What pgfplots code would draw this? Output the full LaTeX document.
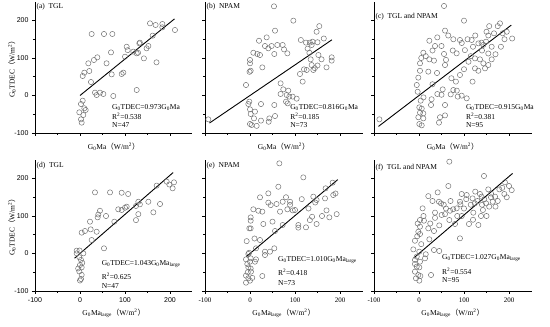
\documentclass[border=0pt]{standalone}
\usepackage{pgfplots}
\pgfplotsset{compat=1.18}
\usepackage{fontspec}
\setmainfont{Liberation Serif}
\setsansfont{Liberation Sans}
\newfontfamily\cjk{Noto Sans CJK SC}
\newcommand{\wunit}{{\cjk （}W/m\textsuperscript{2}{\cjk ）}}
\newcommand{\Gz}{G\textsubscript{0}}
\tikzset{ann/.style={anchor=west, font=\fontsize{7.5}{9}\selectfont, inner sep=0pt}}
\pgfplotsset{
 panel/.style={
  scale only axis, width=157.5pt, height=131.25pt,
  xmin=-100, xmax=250, ymin=-100, ymax=250,
  axis x line*=bottom, axis y line*=left,
  axis line style={black, line width=0.6pt},
  xtick={-100,0,100,200}, ytick={-100,0,100,200},
  minor x tick num=1, minor y tick num=1,
  tick align=outside, major tick length=3pt, minor tick length=2pt,
  tick style={black, line width=0.5pt},
  /pgf/number format/assume math mode=true,
  tick label style={font=\fontsize{7}{8}\selectfont},
  label style={font=\fontsize{7.5}{9}\selectfont},
  clip=false,
 },
 toprow/.style={xticklabels={}, xlabel={\Gz Ma\wunit},
  xlabel style={at={(axis description cs:0.5,-0.107)}, anchor=center}},
 botrow/.style={xlabel={\Gz Ma\textsubscript{large}\wunit},
  xlabel style={at={(axis description cs:0.5,-0.168)}, anchor=center}},
 leftcol/.style={ylabel={\Gz TDEC\wunit},
  ylabel style={at={(axis description cs:-0.146,0.5)}, anchor=center},
  yticklabel style={font=\sffamily\fontsize{7}{8}\selectfont}},
 othercol/.style={yticklabels={}},
 pts/.style={only marks, mark=o, mark size=2.6pt, mark options={draw=black!55, line width=0.5pt}},
 fit/.style={black, line width=0.9pt, no marks},
}
\begin{document}
\begin{tikzpicture}
\path[use as bounding box] (0,0) rectangle (550pt,327pt);
% (a)
\begin{axis}[panel, toprow, leftcol, at={(35pt,194pt)}, anchor=south west]
\addplot[pts] coordinates {(25.9,164) (53.3,164) (71.9,164) (155.6,192.4) (168,188) (183,190.7) (183,181.8) (211,174.7) (161.5,159.6) (170,88.4) (131.9,139) (133,141) (151.9,132) (148,125.8) (103.7,130) (106,121) (118.5,117) (126,112.4) (129,114) (142,99) (100,103.5) (68.9,115) (59,85.8) (38.5,101.8) (31,94.7) (18.5,85.8) (20.7,65.3) (9.6,60.9) (6,52) (24.4,36) (70.4,56.4) (92.6,57.3) (96.3,61) (33.3,7.6) (37,1.3) (44.4,7.6) (51.9,4) (74,-1.3) (126,14.7) (6,-13.8) (2.2,-22.7) (9.6,-34) (12.6,-38.7) (-1.5,-44.9) (7.4,-52) (2.2,-63.6) (3.7,-72.4)};
\addplot[fit] coordinates {(0,0) (210,204.3)};
\node[ann] at (axis cs:-97,238) {(a)\ \ TGL};
\node[ann] at (axis cs:71,-33) {\Gz TDEC=0.973\Gz Ma};
\node[ann] at (axis cs:71,-56) {R\textsuperscript{2}=0.538};
\node[ann] at (axis cs:71,-78) {N=47};
\end{axis}
% (b)
\begin{axis}[panel, toprow, othercol, at={(205pt,194pt)}, anchor=south west]
\addplot[pts] coordinates {(53.3,237.8) (96.3,199.6) (154,185) (148,170) (164,152) (55.6,172.9) (37,155) (20,146) (33.3,132) (48,132) (60.7,134.7) (72.6,134.7) (75.6,123) (54,110.7) (40.7,125.8) (83,112.4) (7.4,114) (16.3,110.7) (22.2,108) (113,148) (124.4,141) (133,141) (139,143.6) (137,134.7) (132,114) (152,108) (159,96.4) (181.5,101.8) (181.5,93) (170,75) (134.8,96.4) (137,81.3) (126,68) (140.7,68) (144,73) (120,69.8) (111,57.3) (117,37) (0,94.7) (0,85.8) (1.5,66) (-1,63) (27.4,75) (-8.9,28) (68,32.4) (74,16.4) (85,12.9) (68,4) (81.5,1.3) (87.4,-3) (94.8,-3) (103.7,-8.4) (80,-16.4) (83.7,-21) (54,-25.3) (-1.5,-16.4) (-3.7,-22.7) (24.4,-22.7) (0,-36.9) (11,-43) (1.5,-49.3) (8.9,-61) (24.4,-67) (43,-61) (41.5,-70) (55.6,-54.7) (0,-76) (3.7,-78.7) (14.8,-81) (-92.6,-63.6) (128,125) (150,142) (150,80)};
\addplot[fit] coordinates {(-90,-73.4) (182,148.5)};
\node[ann] at (axis cs:-97,238) {(b)\ \ NPAM};
\node[ann] at (axis cs:89,-33) {\Gz TDEC=0.816\Gz Ma};
\node[ann] at (axis cs:89,-56) {R\textsuperscript{2}=0.185};
\node[ann] at (axis cs:89,-78) {N=73};
\end{axis}
% (c)
\begin{axis}[panel, toprow, othercol, at={(374pt,194pt)}, anchor=south west]
\addplot[pts] coordinates {(55.6,238.7) (100,199.6) (156,185) (150,170) (166.7,165.8) (186,165.8) (207,152) (57.8,173) (40.7,155) (23,146) (35.6,132) (50,132) (76.3,150) (91,148) (108,150) (117,148) (132,139) (139,141) (149,143.6) (143,135) (182,130) (161.5,130) (154,112) (83.7,112.4) (102,121) (55.6,110.7) (33.3,93) (9.6,114) (23,96.4) (124.4,99) (135.5,96.4) (143,85.8) (161.5,96.4) (154,81.3) (124.4,72.4) (131.9,66) (146.7,72.4) (91,54.7) (72,46) (119,37) (82,37) (57.8,81.3) (2.2,85.8) (2.2,66) (-1.5,47.6) (-5,28) (20.7,63.6) (76.3,14.7) (84,13) (94.8,-0.4) (106,-7.6) (52.6,16.4) (40.7,4) (50,2) (70.4,3) (86,-3) (3.7,-13.8) (0.7,-31.6) (6,-35) (28,-10) (26.7,-25.3) (57.8,-25.3) (2.2,-45.8) (9.6,-47.6) (-1.5,-58) (9.6,-61) (0.7,-76) (6,-79.6) (46.7,-58) (44.4,-72.4) (57.8,-53) (-88,-63.6) (180,192.4) (154,160) (120,130) (95,140) (65,160) (30,120) (15,105) (110,90) (170,110) (190,150) (125,160) (60,95) (40,60) (100,70) (-3,10) (10,-5) (30,30) (75,120) (140,120) (175,185) (195,170) (5,100) (115,105)};
\addplot[fit] coordinates {(-90,-82.4) (205,187.6)};
\node[ann] at (axis cs:-97,209) {(c)\ \ TGL and NPAM};
\node[ann] at (axis cs:104,-33) {\Gz TDEC=0.915\Gz Ma};
\node[ann] at (axis cs:104,-56) {R\textsuperscript{2}=0.381};
\node[ann] at (axis cs:104,-78) {N=95};
\end{axis}
% (d)
\begin{axis}[panel, botrow, leftcol, at={(35pt,36pt)}, anchor=south west, xticklabel style={font=\sffamily\fontsize{7}{8}\selectfont}]
\addplot[pts] coordinates {(33.3,163) (66.7,163) (92.6,162) (107,158.7) (192.6,191.6) (208.9,189.8) (198.5,184) (205.9,173.8) (170.4,181) (129.6,138) (151.9,138) (133,131) (177.8,132) (124.4,126.7) (103.7,124.9) (100,122) (85,117.8) (92.6,116) (163,109.8) (129.6,105) (124.4,89) (76.3,84.9) (44.4,114) (40.7,104) (39.3,96.4) (57.8,100) (22.2,84.9) (3.7,55.6) (11,60) (23.7,64.4) (25.9,36) (37,58) (53.3,13.8) (-7.4,7.6) (-1,8) (7.4,0.4) (-7.4,0.4) (-1.5,-10) (2.2,-17) (0,-30.7) (3.7,-37) (-1.5,-48) (3.7,-57) (2.2,-68) (0,-72) (-4,-40) (5,-25)};
\addplot[fit] coordinates {(-12,-12.5) (207,215.9)};
\node[ann] at (axis cs:-97,233) {(d)\ \ TGL};
\node[ann] at (axis cs:48,-28) {\Gz TDEC=1.043\Gz Ma\textsubscript{large}};
\node[ann] at (axis cs:48,-61) {R\textsuperscript{2}=0.625};
\node[ann] at (axis cs:48,-86) {N=47};
\end{axis}
% (e)
\begin{axis}[panel, botrow, othercol, at={(205pt,36pt)}, anchor=south west]
\addplot[pts] coordinates {(65.2,240.4) (118.5,203) (183.7,188.9) (168,173.8) (63,178) (40.7,160.4) (22.2,149.8) (40.7,135.6) (46,129) (59,132) (72.6,138) (89,138) (89,130) (83,117.8) (100,116) (66.7,111.6) (7.4,117.8) (18.5,114) (27.4,111.6) (140.7,151.6) (148,142.7) (145,136) (185,156) (166.7,147) (192.6,105) (176.3,96.4) (148,78.7) (133,89) (138,98) (107.4,76) (107.4,69) (124.4,69.8) (1.5,96.4) (1.5,87.5) (29.6,78.7) (1.5,67) (-1.5,67) (55.6,60) (72.6,76) (-7.4,33) (22.2,36) (13.3,13.8) (33.3,4.9) (44.4,4.9) (54,13.8) (33.3,-4) (-3.7,-1.3) (1.5,-12.9) (-8.9,-15.6) (13.3,-15.6) (11,-21.8) (0,-21.8) (-3.7,-36.9) (2.2,-48.4) (-8.9,-59) (-3.7,-66) (0,-72.4) (-8.9,-77.8) (27.4,-60) (1.5,-40) (-6,-28) (-2,2) (160,100) (130,120) (95,115) (50,85) (170,115) (10,40) (-5,-50) (5,-65) (80,150) (115,145) (190,160)};
\addplot[fit] coordinates {(-8,-8.1) (195,197)};
\node[ann] at (axis cs:-97,233) {(e)\ \ NPAM};
\node[ann] at (axis cs:62,-17) {\Gz TDEC=1.010\Gz Ma\textsubscript{large}};
\node[ann] at (axis cs:62,-51) {R\textsuperscript{2}=0.418};
\node[ann] at (axis cs:62,-78) {N=73};
\end{axis}
% (f)
\begin{axis}[panel, botrow, othercol, at={(374pt,36pt)}, anchor=south west]
\addplot[pts] coordinates {(67.4,244.9) (144.4,206.7) (65.2,180) (191,189.8) (178.5,171) (206,169) (189.6,158.7) (154,171) (135.5,158.7) (94.8,158.7) (106,156) (41.5,163) (20.7,153) (44.4,138) (49,133.8) (69,114) (91,138) (92,131) (119,147) (124,133.8) (139,151.6) (145,144.4) (149,133.8) (163.7,138) (169,151.6) (156,125) (142,116) (120.7,108.9) (137.8,100) (131.9,76) (111,78.7) (83.7,120.4) (76,118) (57.8,105) (50.3,102.7) (35.6,109) (8,120.4) (35.6,95) (67.4,89.3) (80,78.7) (2.2,89.3) (11,87.5) (2.2,71.6) (-1.5,58) (2.2,52) (20.7,67) (33.3,60) (23,37.8) (-9,34) (-4,46) (91,40.4) (-12.6,11) (33.3,9.3) (45,6.7) (0.7,4.9) (13.3,-12.9) (-5,-8.4) (2.2,-21.8) (-9,-28) (0.7,-37) (-9,-48.4) (-1.5,-57.3) (-6.7,-66.2) (0.7,-72.4) (26.7,-57.3) (-9,-17) (100,120) (125,165) (160,150) (175,140) (185,175) (115,130) (95,100) (55,130) (30,140) (10,100) (-3,80) (5,25) (15,-2) (60,120) (150,100) (170,125) (195,150) (130,140) (105,145) (85,100) (45,75) (-5,-35) (3,-60) (120,90) (160,160) (200,180) (25,80) (70,140) (140,130)};
\addplot[fit] coordinates {(-12,-12.3) (208,213.6)};
\node[ann] at (axis cs:-97,228) {(f)\ \ TGL and NPAM};
\node[ann] at (axis cs:51,-12) {\Gz TDEC=1.027\Gz Ma\textsubscript{large}};
\node[ann] at (axis cs:51,-47) {R\textsuperscript{2}=0.554};
\node[ann] at (axis cs:51,-72) {N=95};
\end{axis}
\end{tikzpicture}
\end{document}
